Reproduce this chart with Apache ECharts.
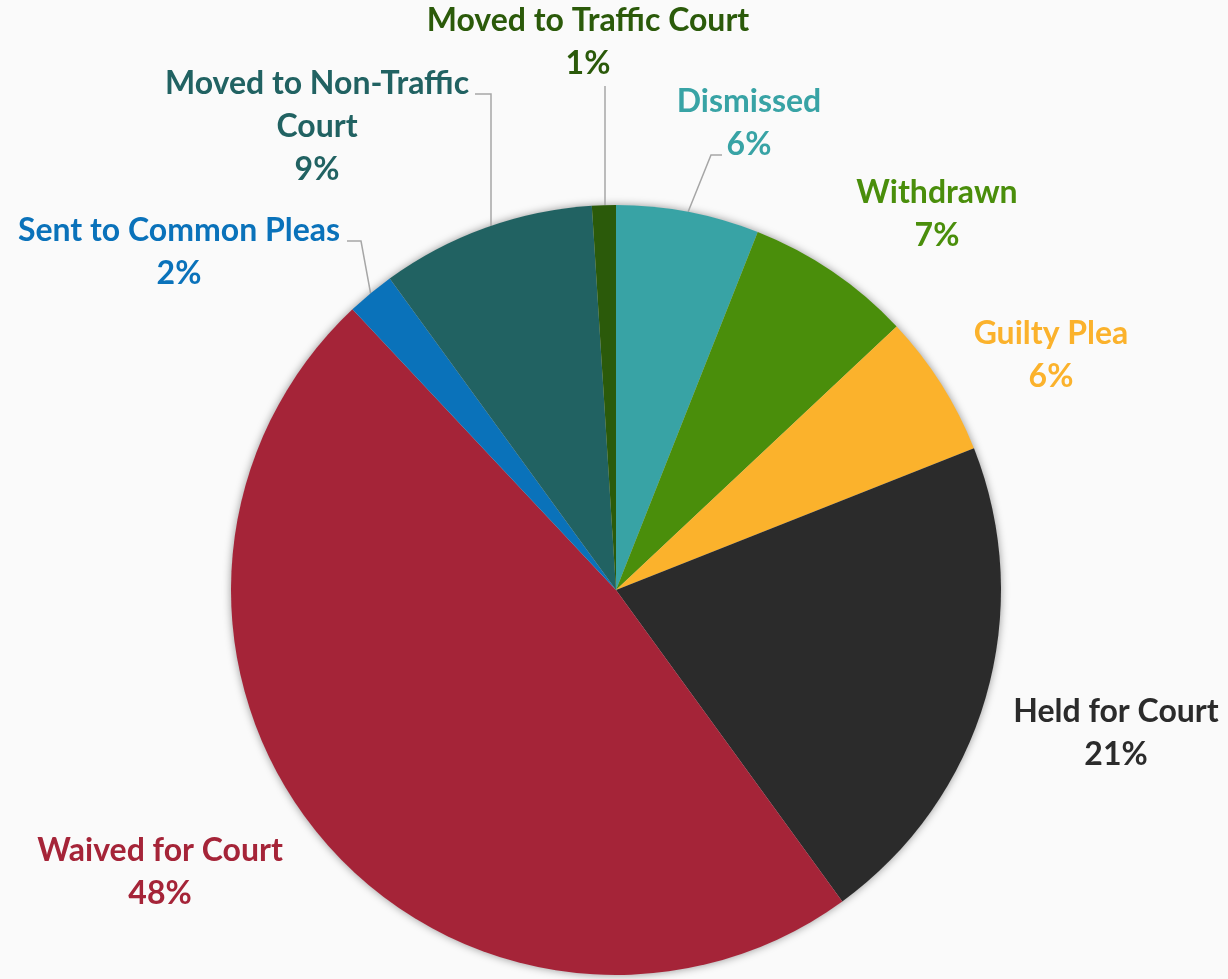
<!DOCTYPE html>
<html>
<head>
<meta charset="utf-8">
<title>Case Outcomes</title>
<script src="https://cdn.jsdelivr.net/npm/echarts@6/dist/echarts.min.js"></script>
<style>
  html, body { margin: 0; padding: 0; background: #FAFAFA; }
  #chart { width: 1228px; height: 979px; }
</style>
</head>
<body>
<div id="chart"></div>
<script>
// Outcome categories, clockwise from 12 o'clock
const categories = [
  'Dismissed', 'Withdrawn', 'Guilty Plea', 'Held for Court',
  'Waived for Court', 'Sent to Common Pleas',
  'Moved to Non-Traffic Court', 'Moved to Traffic Court'
];
// Share of cases (percent)
const shares = [6, 7, 6, 21, 48, 2, 9, 1];
// Label text, with manual line breaks
const labelNames = [
  'Dismissed', 'Withdrawn', 'Guilty Plea', 'Held for Court',
  'Waived for Court', 'Sent to Common Pleas',
  'Moved to Non-Traffic\nCourt', 'Moved to Traffic Court'
];

// Styling
const colors = ['#38A3A5', '#4A8E0B', '#FBB22C', '#2B2B2B', '#A52438', '#0A72BA', '#216262', '#2B5A0A'];
// Label anchor points (label centres)
const labelSpots = [
  [749, 123], [937, 214], [1051, 355], [1116, 733],
  [160, 872], [179, 252], [317, 127], [588, 42]
];
// Leader-line bends after leaving the slice edge (null = no leader line);
// 'v' makes the first segment rise straight up
const leaderBends = [
  [[711, 155], [722, 155]],
  null, null, null, null,
  [[361, 241], [347, 241]],
  ['v', [491, 94], [475, 94]],
  ['v', [605, 86]]
];

const chart = echarts.init(document.getElementById('chart'), null, { renderer: 'canvas' });

const pieData = categories.map((c, i) => ({
  name: c,
  value: shares[i],
  itemStyle: { color: colors[i] },
  label: { color: colors[i] },
  labelLine: { show: leaderBends[i] != null }
}));

function leaderPoints(i, start) {
  const bends = leaderBends[i];
  if (!bends || !start) return undefined;
  const pts = [start.slice()];
  bends.forEach(b => {
    if (b === 'v') return;
    pts.push(b.slice());
  });
  if (bends[0] === 'v') {
    pts[0] = [pts[1][0], start[1]];
  }
  return pts;
}

chart.setOption({
  backgroundColor: '#FAFAFA',
  animation: false,
  series: [
    {
      // soft halo beneath the pie
      type: 'pie',
      silent: true,
      z: 1,
      center: [616, 590],
      radius: 385,
      data: [{ value: 1, name: '' }],
      label: { show: false },
      labelLine: { show: false },
      itemStyle: {
        color: '#CFCFCF',
        shadowBlur: 9,
        shadowColor: 'rgba(0,0,0,0.4)'
      }
    },
    {
      type: 'pie',
      z: 2,
      center: [616, 590],
      radius: 385,
      startAngle: 90,
      clockwise: true,
      data: pieData,
      itemStyle: { borderWidth: 0 },
      label: {
        show: true,
        position: 'outside',
        fontFamily: 'Lato',
        fontWeight: 'bold',
        fontSize: 32,
        lineHeight: 43,
        align: 'center',
        overflow: 'none',
        formatter: p => labelNames[p.dataIndex] + '\n' + Math.round(p.percent) + '%'
      },
      labelLine: {
        show: true,
        length: 10,
        length2: 10,
        lineStyle: { color: '#A6A6A6', width: 1.5 }
      },
      labelLayout: p => {
        const i = p.dataIndex;
        const start = p.labelLinePoints && p.labelLinePoints[0];
        const out = {
          x: labelSpots[i][0],
          y: labelSpots[i][1],
          align: 'center',
          verticalAlign: 'middle'
        };
        const pts = leaderPoints(i, start);
        if (pts) out.labelLinePoints = pts;
        return out;
      }
    }
  ]
});
</script>
</body>
</html>
